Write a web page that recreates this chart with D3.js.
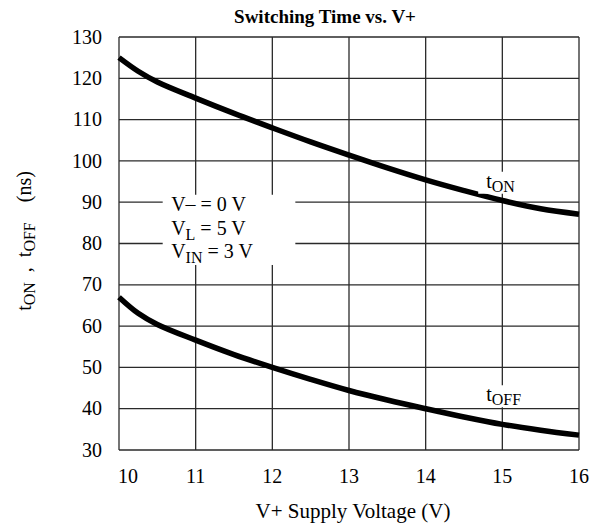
<!DOCTYPE html>
<html>
<head>
<meta charset="utf-8">
<script src="https://cdn.jsdelivr.net/npm/d3@7"></script>
<style>
    body { margin: 0; background: white; }
    text { font-family: 'Liberation Serif', 'Times New Roman', serif; fill: black; }
</style>
</head>
<body>
<div id="chart"></div>
<script>
// Values.
const voltage = [10, 10.25, 10.5, 11, 11.5, 12, 12.5, 13, 13.5, 14, 14.5, 15, 15.5, 16]
const tOn = [125, 121.7, 119.1, 115.2, 111.5, 108, 104.6, 101.4, 98.3, 95.4, 92.8, 90.4, 88.4, 87.1]
const tOff = [67, 63.1, 60.4, 56.6, 53.1, 50, 47.1, 44.4, 42.1, 40, 38, 36.2, 34.8, 33.6]
const xTicks = [10, 11, 12, 13, 14, 15, 16]
const yTicks = [30, 40, 50, 60, 70, 80, 90, 100, 110, 120, 130]
const conditions = [['V', '–', ' = 0 V'], ['V', 'L', ' = 5 V'], ['V', 'IN', ' = 3 V']]

class SwitchingChart {
    constructor(_config) {
        this.config = {
            parentElement: _config.parentElement,
            containerWidth: _config.containerWidth,
            containerHeight: _config.containerHeight,
            margin: {top: 37, right: 11, bottom: 79, left: 119}
        }
        this.initVis()
    }

    initVis() {
        let vis = this

        vis.width = vis.config.containerWidth - vis.config.margin.left - vis.config.margin.right
        vis.height = vis.config.containerHeight - vis.config.margin.top - vis.config.margin.bottom

        vis.svg = d3.select(vis.config.parentElement)
            .append('svg')
            .attr('width', vis.config.containerWidth)
            .attr('height', vis.config.containerHeight)

        vis.chart = vis.svg.append('g')
            .attr('transform', `translate(${vis.config.margin.left}, ${vis.config.margin.top})`)

        vis.xScale = d3.scaleLinear().domain([10, 16]).range([0, vis.width])
        vis.yScale = d3.scaleLinear().domain([30, 130]).range([vis.height, 0])

        vis.renderVis()
    }

    renderVis() {
        let vis = this

        // Grid lines.
        vis.chart.selectAll('.vgrid')
            .data(xTicks)
            .join('line')
            .attr('class', 'vgrid')
            .attr('x1', d => vis.xScale(d)).attr('x2', d => vis.xScale(d))
            .attr('y1', 0).attr('y2', vis.height)
            .attr('stroke', '#2a2a2a')
            .attr('stroke-width', 1.3)

        vis.chart.selectAll('.hgrid')
            .data(yTicks)
            .join('line')
            .attr('class', 'hgrid')
            .attr('x1', 0).attr('x2', vis.width)
            .attr('y1', d => vis.yScale(d)).attr('y2', d => vis.yScale(d))
            .attr('stroke', '#2a2a2a')
            .attr('stroke-width', 1.3)

        // Tick labels.
        vis.chart.selectAll('.xlabel')
            .data(xTicks)
            .join('text')
            .attr('class', 'xlabel')
            .attr('x', (d, i) => vis.xScale(d) + (i === 0 ? 9 : 0))
            .attr('y', vis.height + 33)
            .attr('text-anchor', 'middle')
            .attr('font-size', 20)
            .text(d => d)

        vis.chart.selectAll('.ylabel')
            .data(yTicks)
            .join('text')
            .attr('class', 'ylabel')
            .attr('x', -17)
            .attr('y', d => vis.yScale(d))
            .attr('dy', '0.33em')
            .attr('text-anchor', 'end')
            .attr('font-size', 20)
            .text(d => d)

        // Condition box (white patch hides the grid).
        vis.chart.append('rect')
            .attr('x', vis.xScale(10.57)).attr('y', vis.yScale(91.8))
            .attr('width', vis.xScale(12.3) - vis.xScale(10.57))
            .attr('height', vis.yScale(74.8) - vis.yScale(91.8))
            .attr('fill', 'white')

        const cond = vis.chart.selectAll('.cond')
            .data(conditions)
            .join('text')
            .attr('class', 'cond')
            .attr('x', vis.xScale(10.68))
            .attr('y', (d, i) => vis.yScale(87.8) + i * 23.5)
            .attr('font-size', 20)
        cond.append('tspan').text(d => d[0])
        cond.append('tspan')
            .attr('font-size', (d, i) => i === 0 ? 20 : 16)
            .attr('dy', (d, i) => i === 0 ? 0 : 5)
            .text(d => d[1])
        cond.append('tspan')
            .attr('dy', (d, i) => i === 0 ? 0 : -5)
            .text(d => d[2])

        // Curves.
        const line = d3.line()
            .x(d => vis.xScale(d[0]))
            .y(d => vis.yScale(d[1]))
            .curve(d3.curveCatmullRom)

        const series = [
            {name: 'ON', values: voltage.map((v, i) => [v, tOn[i]]), at: [14.79, 93.5]},
            {name: 'OFF', values: voltage.map((v, i) => [v, tOff[i]]), at: [14.79, 41.8]}
        ]

        vis.chart.selectAll('.curve')
            .data(series)
            .join('path')
            .attr('class', 'curve')
            .attr('d', d => line(d.values))
            .attr('fill', 'none')
            .attr('stroke', 'black')
            .attr('stroke-width', 5.5)

        // Curve labels with white patches.
        series.forEach(s => {
            const x = vis.xScale(s.at[0])
            const y = vis.yScale(s.at[1])
            const w = s.name === 'ON' ? 38 : 56
            vis.chart.append('rect')
                .attr('x', x - 8).attr('y', y - 16)
                .attr('width', w).attr('height', 22)
                .attr('fill', 'white')
            const t = vis.chart.append('text')
                .attr('x', x)
                .attr('y', y)
                .attr('font-size', 20)
            t.append('tspan').text('t')
            t.append('tspan').attr('font-size', 16).attr('dy', 4).text(s.name)
        })

        // Title and axis titles.
        vis.svg.append('text')
            .attr('x', 325)
            .attr('y', 23)
            .attr('text-anchor', 'middle')
            .attr('font-size', 19)
            .attr('font-weight', 'bold')
            .text('Switching Time vs. V+')

        vis.svg.append('text')
            .attr('x', 353)
            .attr('y', 518)
            .attr('text-anchor', 'middle')
            .attr('font-size', 21)
            .text('V+ Supply Voltage (V)')

        const yt = vis.svg.append('text')
            .attr('transform', 'translate(31, 241) rotate(-90)')
            .attr('text-anchor', 'middle')
            .attr('font-size', 20)
        yt.append('tspan').text('t')
        yt.append('tspan').attr('font-size', 16).attr('dy', 4).text('ON')
        yt.append('tspan').attr('dy', -4).text('\u00a0\u00a0,\u00a0\u00a0t')
        yt.append('tspan').attr('font-size', 16).attr('dy', 4).text('OFF')
        yt.append('tspan').attr('dy', -4).text('\u00a0\u00a0\u00a0\u00a0(ns)')
    }
}

new SwitchingChart({parentElement: '#chart', containerWidth: 590, containerHeight: 529})
</script>
</body>
</html>
